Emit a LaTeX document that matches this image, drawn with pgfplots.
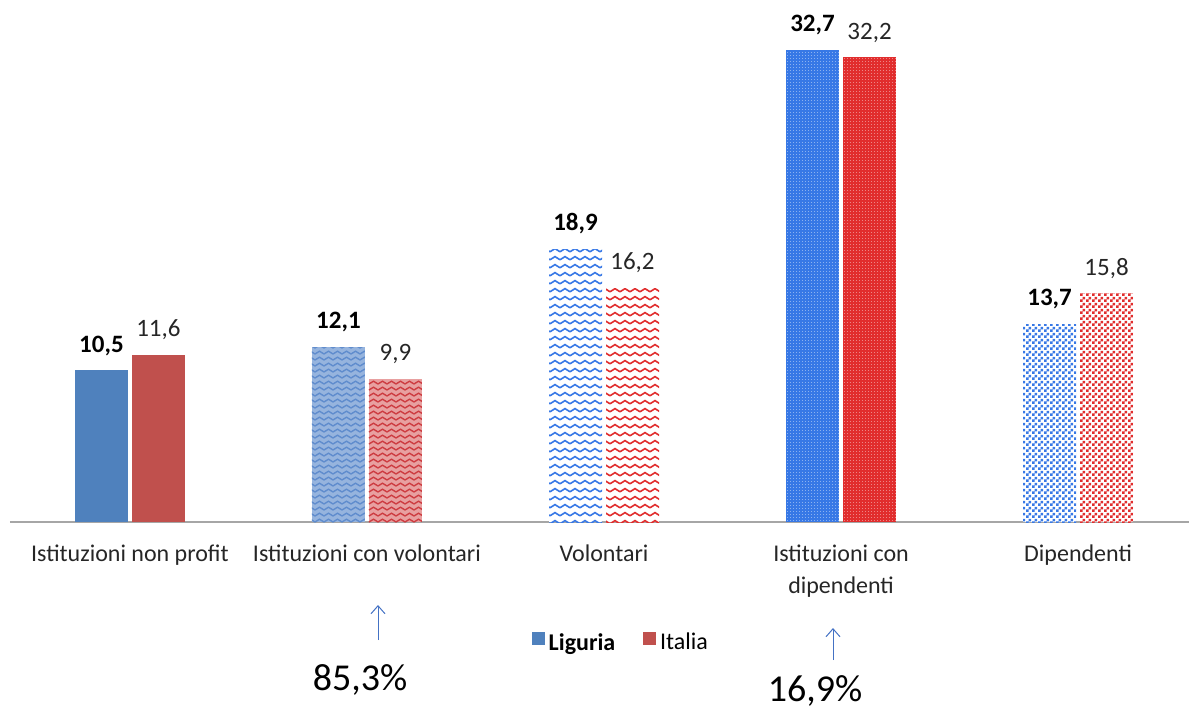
\documentclass[border=0pt]{standalone}
\usepackage{fontspec}
\setmainfont{Carlito}
\usepackage{pgfplots}
\pgfplotsset{compat=1.18}
\usetikzlibrary{patterns,arrows.meta}

\definecolor{ligblue}{RGB}{79,129,189}
\definecolor{itared}{RGB}{192,80,77}
\definecolor{lblue}{RGB}{150,180,222}
\definecolor{lred}{RGB}{232,160,160}
\definecolor{zblue}{RGB}{95,140,205}
\definecolor{zred}{RGB}{205,60,65}
\definecolor{pblue}{RGB}{55,120,230}
\definecolor{pred}{RGB}{225,45,45}
\definecolor{arrowblue}{RGB}{68,114,196}

% small zigzag (cat 2)
\pgfdeclarepatternformonly{zigA}{\pgfpoint{-0.5pt}{-0.5pt}}{\pgfpoint{5pt}{3.5pt}}{\pgfpoint{4.5pt}{3pt}}{
  \pgfsetlinewidth{0.7pt}
  \pgfpathmoveto{\pgfpoint{0pt}{0.5pt}}
  \pgfpathlineto{\pgfpoint{2.25pt}{1.9pt}}
  \pgfpathlineto{\pgfpoint{4.5pt}{0.5pt}}
  \pgfusepath{stroke}
}
% wider zigzag on white (cat 3)
\pgfdeclarepatternformonly{zigB}{\pgfpoint{-0.5pt}{-0.5pt}}{\pgfpoint{5.5pt}{4.5pt}}{\pgfpoint{5pt}{4pt}}{
  \pgfsetlinewidth{0.8pt}
  \pgfpathmoveto{\pgfpoint{0pt}{0.6pt}}
  \pgfpathlineto{\pgfpoint{2.5pt}{2.2pt}}
  \pgfpathlineto{\pgfpoint{5pt}{0.6pt}}
  \pgfusepath{stroke}
}
% white dots on colour (cat 4)
\pgfdeclarepatternformonly{dotsq}{\pgfpointorigin}{\pgfpoint{1.6pt}{1.6pt}}{\pgfpoint{1.6pt}{1.6pt}}{
  \pgfpathrectangle{\pgfpointorigin}{\pgfpoint{0.45pt}{0.45pt}}
  \pgfusepath{fill}
}
% checkerboard (cat 5)
\pgfdeclarepatternformonly{checker}{\pgfpointorigin}{\pgfpoint{3pt}{3pt}}{\pgfpoint{3pt}{3pt}}{
  \pgfpathrectangle{\pgfpointorigin}{\pgfpoint{1.5pt}{1.5pt}}
  \pgfpathrectangle{\pgfpoint{1.5pt}{1.5pt}}{\pgfpoint{1.5pt}{1.5pt}}
  \pgfusepath{fill}
}

\begin{document}
\begin{tikzpicture}
\path[use as bounding box] (0pt,0pt) rectangle (594.5pt,-354.5pt);
\begin{axis}[
    at={(5pt,-261pt)}, anchor=south west,
    scale only axis,
    width=589.5pt, height=261pt,
    xmin=-0.506, xmax=4.468,
    ymin=0, ymax=36.17,
    ybar, bar width=26.5pt,
    axis y line=none,
    axis x line*=bottom,
    x axis line style={draw=black!35, line width=1pt},
    xtick={0,1,2,3,4},
    xticklabels={Istituzioni non profit, Istituzioni con volontari, Volontari, {Istituzioni con\\dipendenti}, Dipendenti},
    major tick length=0pt,
    xticklabel style={font=\fontsize{12}{16}\selectfont, align=center, text=black!85, yshift=-8pt},
    clip=false,
    /pgf/number format/assume math mode=true,
    nodes near coords={\pgfmathprintnumber[use comma,fixed,fixed zerofill,precision=1,assume math mode=true]{\pgfplotspointmeta}},
    lig/.style={bar shift=-14.25pt, draw=none,
        nodes near coords style={font=\fontsize{12.5}{14}\selectfont\bfseries, text=black, yshift=4pt}},
    ita/.style={bar shift=14.25pt, draw=none,
        nodes near coords style={font=\fontsize{12.5}{14}\selectfont, text=black!85, yshift=4pt}},
    legend style={at={(0.519,-0.232)}, anchor=center, draw=none,
        font=\fontsize{12}{14}\selectfont, legend columns=2,
        /tikz/every even column/.append style={column sep=12pt}},
    legend entries={\textbf{Liguria}, Italia},
]
\addlegendimage{legend image code/.code={\fill[ligblue] (0pt,-0.5pt) rectangle (6pt,5.5pt);}}
\addlegendimage{legend image code/.code={\fill[itared] (0pt,-0.5pt) rectangle (6pt,5.5pt);}}

% Istituzioni non profit
\addplot[lig, fill=ligblue] coordinates {(0,10.5)};
\addplot[ita, fill=itared] coordinates {(0,11.6)};
% Istituzioni con volontari
\addplot[lig, fill=lblue, postaction={pattern=zigA, pattern color=zblue}] coordinates {(1,12.1)};
\addplot[ita, fill=lred, postaction={pattern=zigA, pattern color=zred}] coordinates {(1,9.9)};
% Volontari
\addplot[lig, fill=white, postaction={pattern=zigB, pattern color=pblue}] coordinates {(2,18.9)};
\addplot[ita, fill=white, postaction={pattern=zigB, pattern color=pred}] coordinates {(2,16.2)};
% Istituzioni con dipendenti
\addplot[lig, fill=pblue, postaction={pattern=dotsq, pattern color=white}] coordinates {(3,32.7)};
\addplot[ita, fill=pred, postaction={pattern=dotsq, pattern color=white}] coordinates {(3,32.2)};
% Dipendenti
\addplot[lig, fill=white, postaction={pattern=checker, pattern color=pblue}] coordinates {(4,13.7)};
\addplot[ita, fill=white, postaction={pattern=checker, pattern color=pred}] coordinates {(4,15.8)};
\end{axis}

\draw[-{Straight Barb[length=4pt,width=7pt]}, arrowblue, line width=0.5pt] (189pt,-320pt) -- (189pt,-302.5pt);
\draw[-{Straight Barb[length=4pt,width=7pt]}, arrowblue, line width=0.5pt] (416.5pt,-330pt) -- (416.5pt,-314pt);
\node[font=\fontsize{19}{22}\selectfont, inner sep=1pt] at (180pt,-340pt) {85,3\%};
\node[font=\fontsize{19}{22}\selectfont, inner sep=1pt] at (407.5pt,-345.5pt) {16,9\%};
\end{tikzpicture}
\end{document}
